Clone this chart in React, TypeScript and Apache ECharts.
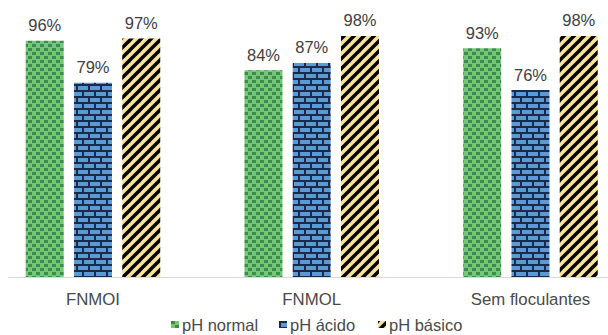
import React, { useEffect, useRef } from "react";
import * as echarts from "echarts";

const categories = ["FNMOI", "FNMOL", "Sem floculantes"];
const seriesNames = ["pH normal", "pH ácido", "pH básico"];
const phNormal = [0.96, 0.84, 0.93];
const phAcido = [0.79, 0.87, 0.76];
const phBasico = [0.97, 0.98, 0.98];

const OFFSET = 20;

function makeCanvas(w: number, h: number, draw: (ctx: CanvasRenderingContext2D) => void) {
  const c = document.createElement("canvas");
  c.width = w;
  c.height = h;
  const ctx = c.getContext("2d")!;
  draw(ctx);
  return c;
}

function greenPattern() {
  return makeCanvas(8, 8, (ctx) => {
    ctx.fillStyle = "#74c86f";
    ctx.fillRect(0, 0, 8, 8);
    ctx.fillStyle = "#3d8a58";
    ctx.fillRect(0, 0, 4, 3);
    ctx.fillRect(4, 4, 4, 3);
  });
}

function bluePattern() {
  return makeCanvas(12, 12, (ctx) => {
    ctx.fillStyle = "#5b9bd5";
    ctx.fillRect(0, 0, 12, 12);
    ctx.fillStyle = "#1c2a4a";
    ctx.fillRect(0, 0, 12, 2);
    ctx.fillRect(0, 6, 12, 2);
    ctx.fillRect(0, 0, 2, 6);
    ctx.fillRect(6, 6, 2, 6);
  });
}

function yellowPattern() {
  return makeCanvas(10, 10, (ctx) => {
    ctx.fillStyle = "#fbe29a";
    ctx.fillRect(0, 0, 10, 10);
    ctx.strokeStyle = "#000000";
    ctx.lineWidth = 3.4;
    for (let k = -1; k <= 1; k++) {
      ctx.beginPath();
      ctx.moveTo(k * 10 - 2, 12);
      ctx.lineTo(k * 10 + 12, -2);
      ctx.stroke();
    }
  });
}

export default function App() {
  const ref = useRef<HTMLDivElement>(null);
  useEffect(() => {
    if (!ref.current) return;
    const chart = echarts.init(ref.current, undefined, { renderer: "svg" });
    const patterns = [
      { image: greenPattern(), repeat: "repeat" },
      { image: bluePattern(), repeat: "repeat" },
      { image: yellowPattern(), repeat: "repeat" },
    ];
    const data = [phNormal, phAcido, phBasico];
    const font = "'Liberation Sans', Arial, sans-serif";
    const legendLefts = [171, 279, 378];
    chart.setOption({
      animation: false,
      backgroundColor: "#ffffff",
      grid: { left: OFFSET - 16.4, width: 656.25, top: 31, bottom: 58, containLabel: false },
      xAxis: {
        type: "category",
        data: categories,
        axisLine: { show: false },
        axisTick: { show: false },
        axisLabel: { color: "#4a4a4a", fontSize: 16.8, fontFamily: font, margin: 14 },
      },
      yAxis: { type: "value", min: 0, max: 1, show: false, splitLine: { show: false } },
      legend: seriesNames.map((name, i) => ({
        data: [name],
        bottom: 2,
        left: OFFSET + legendLefts[i],
        padding: 0,
        itemWidth: 8,
        itemHeight: 7,
        icon: "rect",
        textStyle: { color: "#4a4a4a", fontSize: 16.5, fontFamily: font, padding: [0, 0, 0, -2] },
      })),
      graphic: [
        {
          type: "line",
          shape: { x1: OFFSET + 8, y1: 277.5, x2: OFFSET + 608, y2: 277.5 },
          style: { stroke: "#d9d9d9", lineWidth: 1 },
        },
      ],
      series: seriesNames.map((name, i) => ({
        name,
        type: "bar",
        data: data[i],
        barWidth: 38,
        barGap: "27%",
        itemStyle: { color: patterns[i] },
        label: {
          show: true,
          position: "top",
          distance: 7,
          color: "#404040",
          fontSize: 16.5,
          fontFamily: font,
          formatter: (p: any) => Math.round(p.value * 100) + "%",
        },
      })),
    });
    return () => chart.dispose();
  }, []);
  return (
    <div
      ref={ref}
      style={{ position: "fixed", left: -OFFSET, top: 0, width: 608 + 2 * OFFSET + 40, height: 335 }}
    />
  );
}
